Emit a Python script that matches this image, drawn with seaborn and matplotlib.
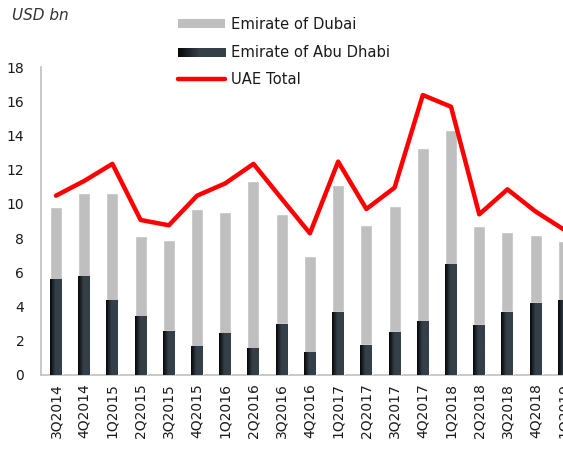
import numpy as np
import pandas as pd
import matplotlib
matplotlib.use("Agg")
import matplotlib.pyplot as plt
import seaborn as sns
from matplotlib.patches import Rectangle
from matplotlib.lines import Line2D
from matplotlib.legend_handler import HandlerBase
from matplotlib.colors import LinearSegmentedColormap

quarters = ["3Q2014", "4Q2014", "1Q2015", "2Q2015", "3Q2015", "4Q2015", "1Q2016",
            "2Q2016", "3Q2016", "4Q2016", "1Q2017", "2Q2017", "3Q2017", "4Q2017",
            "1Q2018", "2Q2018", "3Q2018", "4Q2018", "1Q2019"]
abu_dhabi = [5.56, 5.73, 4.33, 3.41, 2.57, 1.64, 2.40, 1.52, 2.98, 1.29,
             3.68, 1.75, 2.51, 3.10, 6.43, 2.92, 3.68, 4.20, 4.33]
dubai = [4.26, 4.91, 6.31, 4.72, 5.32, 8.06, 7.13, 9.82, 6.43, 5.67,
         7.42, 7.02, 7.37, 10.17, 7.89, 5.79, 4.68, 3.98, 3.50]
uae_total = [10.48, 11.34, 12.34, 9.06, 8.75, 10.48, 11.2, 12.34, 10.3, 8.28,
             12.47, 9.7, 10.95, 16.36, 15.68, 9.39, 10.85, 9.55, 8.5]

sns.set_style("white")
plt.rcParams["font.family"] = ["DejaVu Sans"]

df = pd.DataFrame({"quarter": quarters, "abu": abu_dhabi, "dubai": dubai})
df["stack"] = df["abu"] + df["dubai"]

fig = plt.figure(figsize=(5.63, 4.5), dpi=100)
ax = fig.add_axes([41 / 563, 1 - 375 / 450, (578 - 41) / 563, (375 - 67) / 450])

GRAY = "#bfbfbf"
SLATE = "#343f48"
grad_cmap = LinearSegmentedColormap.from_list(
    "g", [(0, "#050607"), (0.45, SLATE), (1, SLATE)])

bw = 0.425
sns.barplot(data=df, x="quarter", y="stack", color=GRAY, width=bw,
            saturation=1, ax=ax, zorder=2)
n0 = len(ax.patches)
sns.barplot(data=df, x="quarter", y="abu", color=SLATE, width=bw,
            saturation=1, ax=ax, zorder=3)
grad = np.linspace(0, 1, 64).reshape(1, -1)
for p in ax.patches[n0:]:
    x0, y0 = p.get_x(), p.get_y()
    w, h = p.get_width(), p.get_height()
    ax.imshow(grad, extent=(x0, x0 + w, y0, y0 + h), aspect="auto",
              cmap=grad_cmap, zorder=3.5, interpolation="bilinear")

sns.lineplot(x=np.arange(len(quarters)), y=uae_total, color="#ff0000",
             lw=3.2, ax=ax, zorder=5)

ax.set_xlim(-0.53, 18.5)
ax.set_ylim(0, 18)
ax.set_yticks(np.arange(0, 19, 2))
ax.set_xticks(np.arange(len(quarters)))
ax.set_xticklabels(quarters, rotation=90, fontsize=10, color="#1a1a1a")
ax.tick_params(axis="y", labelsize=10, labelcolor="#1a1a1a", length=0, pad=12)
ax.tick_params(axis="x", length=0, pad=6)
ax.set_xlabel("")
ax.set_ylabel("")
for s in ["top", "right"]:
    ax.spines[s].set_visible(False)
for s in ["left", "bottom"]:
    ax.spines[s].set_color("#bfbfbf")
    ax.spines[s].set_linewidth(1.2)

fig.text(12 / 563, 1 - 15 / 450, "USD bn", style="italic", fontsize=11,
         color="#333333", va="center", ha="left")


class GradHandler(HandlerBase):
    def create_artists(self, legend, orig, xd, yd, width, height, fontsize, trans):
        arts = []
        k = 40
        for i in range(k):
            c = grad_cmap((i + 0.5) / k)
            r = Rectangle((xd + width * i / k, yd), width / k + 0.3, height,
                          facecolor=c, edgecolor="none", transform=trans)
            arts.append(r)
        return arts


h_dubai = Rectangle((0, 0), 1, 1, facecolor=GRAY, edgecolor="none")
h_abu = Rectangle((0, 0), 1, 1, facecolor=SLATE, edgecolor="none")
h_uae = Line2D([], [], color="#ff0000", lw=3.2)
fig.legend([h_dubai, h_abu, h_uae],
           ["Emirate of Dubai", "Emirate of Abu Dhabi", "UAE Total"],
           handler_map={h_abu: GradHandler()},
           loc="upper left", bbox_to_anchor=(178 / 563, 1 - 17 / 450),
           frameon=False, fontsize=10.6, handlelength=3.2, handleheight=0.6,
           handletextpad=0.4, labelspacing=0.85, borderpad=0, borderaxespad=0,
           labelcolor="#1a1a1a")

fig.savefig("out.png", dpi=100)
